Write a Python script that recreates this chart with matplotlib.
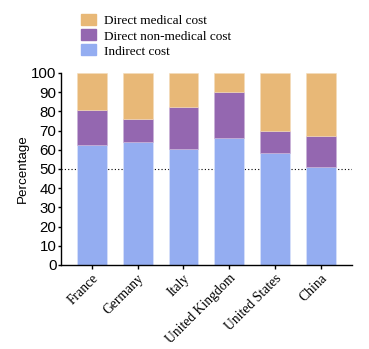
import numpy as np
import matplotlib
matplotlib.use('Agg')
from matplotlib import pyplot as plt
from matplotlib.patches import Patch

kraje = ['France', 'Germany', 'Italy', 'United Kingdom', 'United States', 'China']
indirect = [62.5, 63.9, 60.4, 66.0, 58.2, 51.2]
non_medical = [18.4, 12.1, 21.7, 24.3, 11.8, 16.1]
medical = [19.1, 24.0, 17.9, 9.7, 30.0, 32.7]

kolor_med = '#E8B877'
kolor_nonmed = '#9467B0'
kolor_ind = '#94ADF1'

fig = plt.figure(figsize=(3.69, 3.49), dpi=100)
ax = fig.add_axes([0.1645, 0.2407, 0.7895, 0.5503])

x = np.arange(len(kraje))
dol2 = np.array(indirect) + np.array(non_medical)
ax.axhline(50, color='black', linestyle=(0, (1, 2)), linewidth=0.8, zorder=1)
ax.bar(x, indirect, width=0.65, color=kolor_ind, edgecolor='#dde6fb', linewidth=0.4, zorder=2)
ax.bar(x, non_medical, width=0.65, bottom=indirect, color=kolor_nonmed, edgecolor='#c9b3d8', linewidth=0.4, zorder=2)
ax.bar(x, medical, width=0.65, bottom=dol2, color=kolor_med, edgecolor='#f4dcbb', linewidth=0.4, zorder=2)

ax.set_xlim(-0.68, 5.68)
ax.set_ylim(0, 100)
ax.set_yticks(np.arange(0, 101, 10))
ax.set_xticks(x)
ax.set_xticklabels(kraje, rotation=45, ha='right', rotation_mode='anchor',
                   family='Liberation Serif', fontsize=9.8)
for lab in ax.get_yticklabels():
    lab.set_family('Liberation Sans')
    lab.set_fontsize(10.8)
ax.set_ylabel('Percentage', family='Liberation Sans', fontsize=9.6, labelpad=1.5)
ax.spines['top'].set_visible(False)
ax.spines['right'].set_visible(False)
ax.spines['left'].set_linewidth(1.0)
ax.spines['bottom'].set_linewidth(1.0)
ax.tick_params(axis='y', length=2.5, width=1.0, pad=0.5)
ax.tick_params(axis='x', length=3, width=1.0, pad=2)

uchwyty = [Patch(color=kolor_med), Patch(color=kolor_nonmed), Patch(color=kolor_ind)]
fig.legend(uchwyty, ['Direct medical cost', 'Direct non-medical cost', 'Indirect cost'],
           loc='upper left', bbox_to_anchor=(0.195, 0.985), frameon=False,
           prop={'family': 'Liberation Serif', 'size': 9.5},
           handlelength=1.1, handleheight=0.9, handletextpad=0.6,
           labelspacing=0.15, borderpad=0.2)

plt.savefig('out.png', dpi=100)
